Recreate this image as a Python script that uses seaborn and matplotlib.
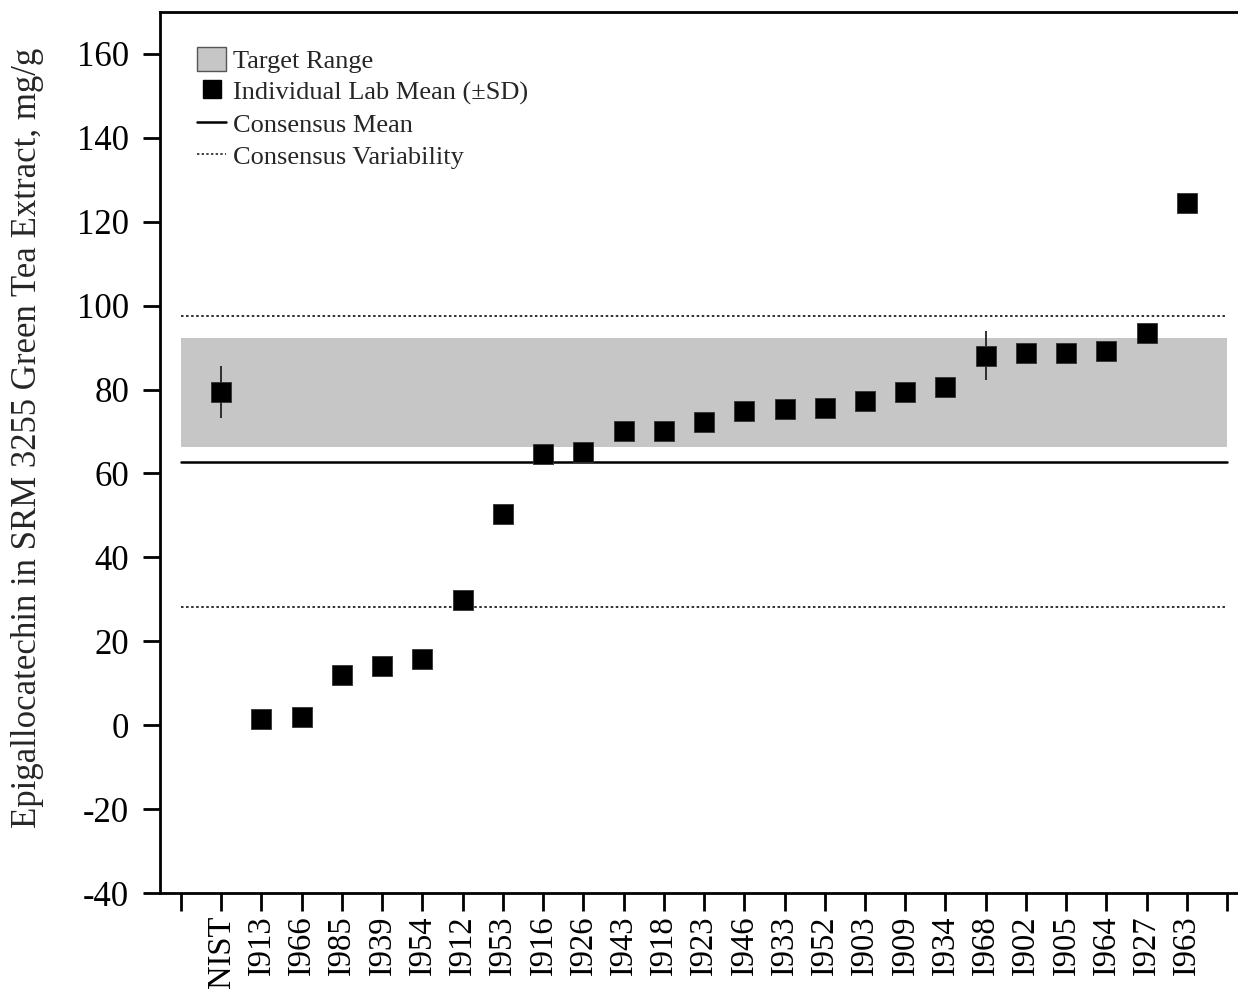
import numpy as np
import pandas as pd
import matplotlib
matplotlib.use("Agg")
import matplotlib.pyplot as plt
from matplotlib.patches import Patch
from matplotlib.lines import Line2D
import seaborn as sns

# Laboratory codes, ordered by reported mean
labs = ["NIST", "I913", "I966", "I985", "I939", "I954", "I912", "I953", "I916",
        "I926", "I943", "I918", "I923", "I946", "I933", "I952", "I903", "I909",
        "I934", "I968", "I902", "I905", "I964", "I927", "I963"]
# Individual lab means, mg/g
means = [79.4, 1.4, 1.9, 11.9, 14.1, 15.7, 29.9, 50.4, 64.6, 65.1, 70.0, 70.0,
         72.2, 74.8, 75.4, 75.5, 77.2, 79.5, 80.6, 88.1, 88.6, 88.6, 89.1, 93.5, 124.4]
# Standard deviations (only those larger than the marker are listed)
sds = [6.3, np.nan, np.nan, np.nan, np.nan, np.nan, np.nan, np.nan, np.nan,
       np.nan, np.nan, np.nan, np.nan, np.nan, np.nan, np.nan, np.nan, np.nan,
       np.nan, 5.8, np.nan, np.nan, np.nan, np.nan, np.nan]

consensus_mean = 62.8
consensus_low = 28.2
consensus_high = 97.6
target_low = 66.4
target_high = 92.3

y_ticks = [-40, -20, 0, 20, 40, 60, 80, 100, 120, 140, 160]

sns.set_style("ticks")
plt.rcParams["font.family"] = ["Liberation Serif", "DejaVu Serif"]
plt.rcParams["axes.unicode_minus"] = False

df = pd.DataFrame({"lab": labs, "pos": np.arange(len(labs)), "mean": means, "sd": sds})

fig = plt.figure(figsize=(12.38, 9.89), dpi=100)
ax = fig.add_axes([0.129, 0.097, 0.871, 0.891])

x_lo, x_hi = -1, len(labs)

# Target range band and consensus lines
ax.fill_between([x_lo, x_hi], target_low, target_high, color="#c6c6c6", lw=0, zorder=1)
ax.plot([x_lo, x_hi], [consensus_mean] * 2, color="black", lw=1.8, zorder=2)
for v in (consensus_low, consensus_high):
    ax.plot([x_lo, x_hi], [v, v], color="#222222", lw=1.3,
            linestyle=(0, (1.4, 1.4)), zorder=2)

# Error bars for labs with visible spread
err = df.dropna(subset=["sd"])
ax.errorbar(err["pos"], err["mean"], yerr=err["sd"], fmt="none",
            ecolor="#222222", elinewidth=1.3, capsize=0, zorder=3)

# Lab means
sns.scatterplot(data=df, x="pos", y="mean", marker="s", s=195, color="black",
                edgecolor="#333333", linewidth=0.6, ax=ax, zorder=4, legend=False)

ax.set_xlim(-1.53, 25.27)
ax.set_ylim(-40, 170)
ax.set_yticks(y_ticks)
ax.set_yticklabels([str(t) for t in y_ticks])
ax.set_xticks(np.arange(-1, len(labs) + 1))
ax.set_xticklabels([""] + labs + [""], rotation=90)
ax.set_xlabel("")
ax.set_ylabel("Epigallocatechin in SRM 3255 Green Tea Extract, mg/g", fontsize=25)
ax.yaxis.set_label_coords(-0.107, 0.517)

ax.tick_params(axis="y", direction="out", length=12, width=2, labelsize=25,
               colors="black", pad=10)
ax.tick_params(axis="x", direction="out", length=13, width=2, labelsize=23.5,
               colors="black", pad=3)
for side in ("left", "bottom", "top"):
    ax.spines[side].set_linewidth(2)
    ax.spines[side].set_color("black")
ax.spines["right"].set_visible(False)

handles = [
    Patch(facecolor="#c6c6c6", edgecolor="#555555", linewidth=1.0, label="Target Range"),
    Line2D([], [], marker="s", color="black", linestyle="none", markersize=13,
           label="Individual Lab Mean (\u00b1SD)"),
    Line2D([], [], color="black", lw=1.8, label="Consensus Mean"),
    Line2D([], [], color="#222222", lw=1.2, linestyle=(0, (1.4, 1.4)),
           label="Consensus Variability"),
]
ax.legend(handles=handles, loc="upper left", bbox_to_anchor=(0.025, 0.9725),
          frameon=False, fontsize=19, handlelength=1.1, handleheight=1.05,
          handletextpad=0.25, labelspacing=0.22, borderaxespad=0)

fig.savefig("out.png", dpi=100)
